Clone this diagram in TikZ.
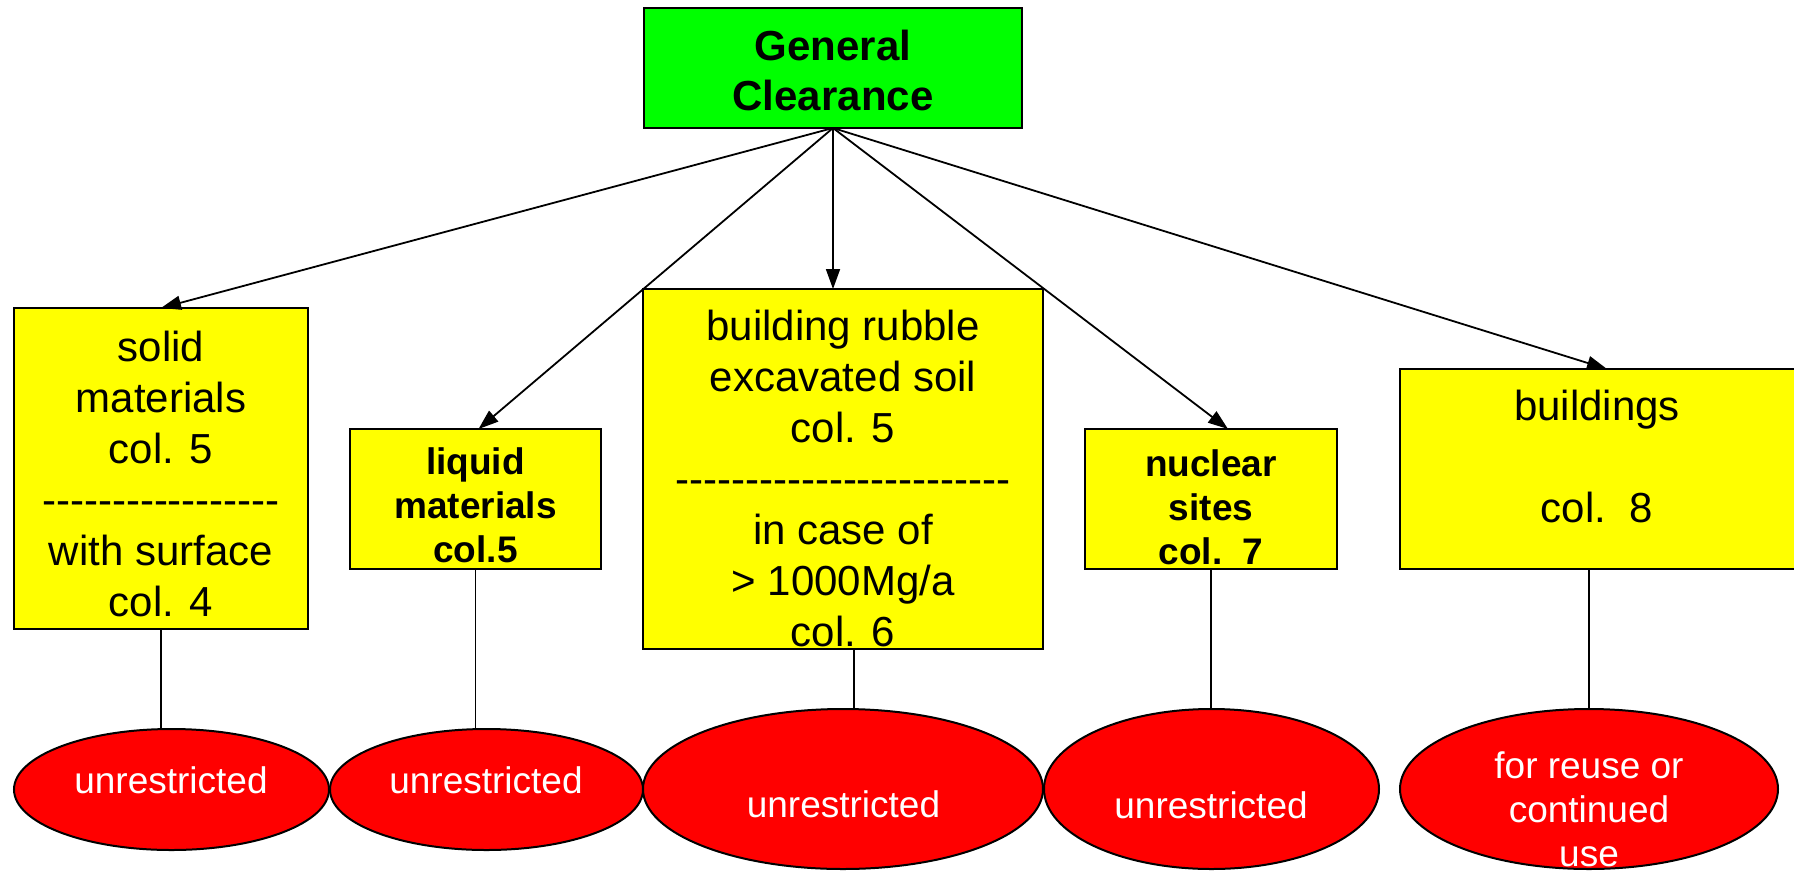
\documentclass[tikz,border=0pt]{standalone}
\usepackage{fontspec}
\setmainfont{Liberation Sans}
\usetikzlibrary{arrows.meta,shapes.geometric,calc}

\definecolor{rootgreen}{RGB}{0,255,0}
\definecolor{catyellow}{RGB}{255,255,0}
\definecolor{outred}{RGB}{255,0,0}

% a row of plain hyphens (no dash ligatures)
\ExplSyntaxOn
\cs_new:Npn \hyphenrow #1 { \prg_replicate:nn {#1} { \char"2D\relax } }
\ExplSyntaxOff

\begin{document}
\begin{tikzpicture}[x=1pt,y=-1pt,
  box/.style={draw=black, line width=2pt, inner sep=0pt, outer sep=0pt},
  greenbox/.style={box, fill=rootgreen},
  yellowbox/.style={box, fill=catyellow},
  result/.style={ellipse, draw=black, line width=2pt, fill=outred, inner sep=0pt, outer sep=0pt},
  titletext/.style={inner sep=0pt, align=center, font=\bfseries\fontsize{42}{50}\selectfont},
  bigtext/.style={inner sep=0pt, align=center, font=\fontsize{42}{51}\selectfont},
  boldtext/.style={inner sep=0pt, align=center, font=\bfseries\fontsize{37}{44}\selectfont},
  resulttext/.style={inner sep=0pt, align=center, text=white, font=\fontsize{37}{44}\selectfont},
  link/.style={line width=1.8pt},
  feed/.style={link, -{Triangle[length=20pt,width=14pt]}}
]
\useasboundingbox (0,0) rectangle (1794,871);

% root
\node[greenbox, minimum width=378pt, minimum height=120pt] (gc) at (833,68) {};
\node[titletext] (gct) at (833,70) {General\\Clearance};

% categories
\node[yellowbox, minimum width=294pt, minimum height=321pt] (solid) at (161,468.5) {};
\node[bigtext] (solidt) at (161,474) {solid\\materials\\col. 5\\\hyphenrow{17}\\with surface\\col. 4};

\node[yellowbox, minimum width=251pt, minimum height=140pt] (liquid) at (475.5,499) {};
\node[boldtext] (liquidt) at (475.5,505.5) {liquid\\materials\\col.5};

\node[yellowbox, minimum width=400pt, minimum height=360pt] (rubble) at (843,469) {};
\node[bigtext] (rubblet) at (843,478.5) {building rubble\\excavated soil\\col. 5\\\hyphenrow{24}\\in case of\\> 1000Mg/a\\col. 6};

\node[yellowbox, minimum width=252pt, minimum height=140pt] (nuclear) at (1211,499) {};
\node[boldtext] (nucleart) at (1211,507) {nuclear\\sites\\col.~~7};

\node[yellowbox, minimum width=400pt, minimum height=200pt] (build) at (1600,469) {};
\node[bigtext] (buildt) at (1597,456.5) {buildings\\\mbox{}\\col.~~8};

% outcomes
\node[result, minimum width=315pt, minimum height=121pt] (u1) at (171.5,789.5) {};
\node[resulttext] (u1t) at (171,780) {unrestricted};
\node[result, minimum width=313pt, minimum height=121pt] (u2) at (486.5,789.5) {};
\node[resulttext] (u2t) at (486,780) {unrestricted};
\node[result, minimum width=400pt, minimum height=160pt] (u3) at (843,789) {};
\node[resulttext] (u3t) at (843.5,804) {unrestricted};
\node[result, minimum width=335pt, minimum height=160pt] (u4) at (1211.5,789) {};
\node[resulttext] (u4t) at (1211,805) {unrestricted};
\node[result, minimum width=378pt, minimum height=160pt] (u5) at (1589,789) {};
\node[resulttext] (u5t) at (1589,809.5) {for reuse or\\continued\\use};

% arrows from the root
\draw[feed] (gc.south) -- (solid.north);
\draw[feed] (gc.south) -- ($(liquid.north)+(3,0)$);
\draw[feed] (gc.south) -- (gc.south |- rubble.north);
\draw[feed] (gc.south) -- ($(nuclear.north)+(17,0)$);
\draw[feed] (gc.south) -- ($(build.north)+(7,0)$);

% links to the outcomes
\coordinate (r3) at ($(rubble.south)+(11,0)$);
\draw[link] (solid.south) -- (solid.south |- u1.north);
\draw[link] (liquid.south) -- (liquid.south |- u2.north);
\draw[link] (r3) -- (r3 |- u3.north);
\draw[link] (nuclear.south) -- (nuclear.south |- u4.north);
\draw[link] (u5.north) -- (u5.north |- build.south);
\end{tikzpicture}
\end{document}
